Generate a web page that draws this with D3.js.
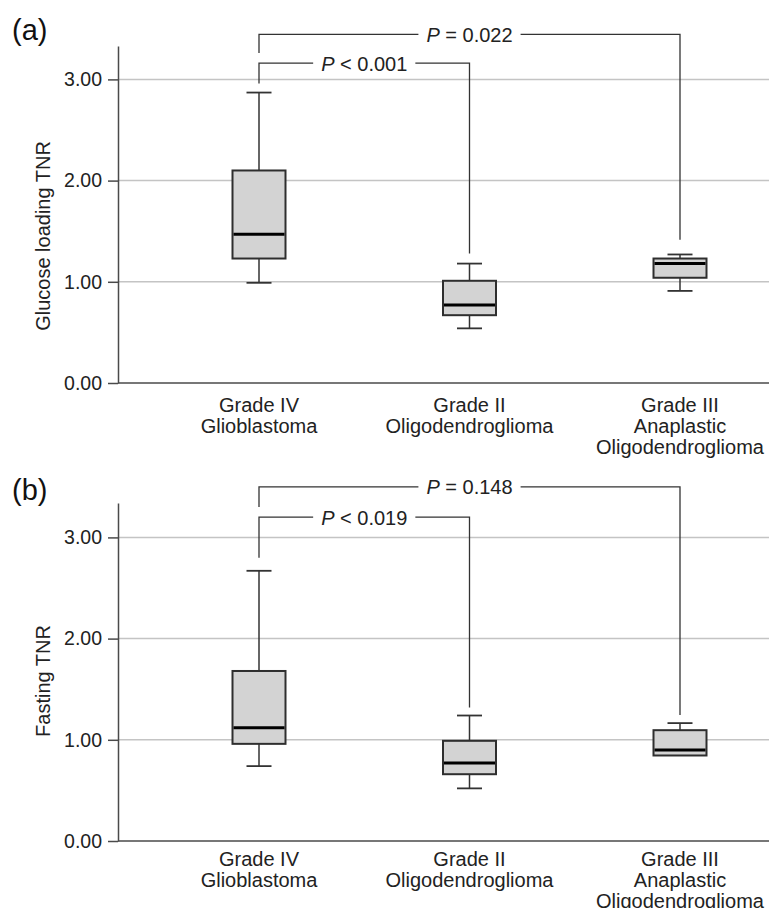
<!DOCTYPE html>
<html>
<head>
<meta charset="utf-8">
<script src="https://cdn.jsdelivr.net/npm/d3@7"></script>
<style>
  body { margin: 0; background: #fff; }
  svg { display: block; font-family: "Liberation Sans", Arial, sans-serif; }
</style>
</head>
<body>
<div id="chart"></div>
<script>
const WIDTH = 769;
const HEIGHT = 908;

// categories (one entry per line of the label)
const categories = [
    ["Grade IV", "Glioblastoma"],
    ["Grade II", "Oligodendroglioma"],
    ["Grade III", "Anaplastic", "Oligodendroglioma"]
];

const yTicks = [0, 1, 2, 3];

// (a) glucose loading TNR
const glucoseMin = [0.99, 0.54, 0.91];
const glucoseQ1 = [1.23, 0.67, 1.04];
const glucoseMedian = [1.47, 0.77, 1.18];
const glucoseQ3 = [2.10, 1.01, 1.23];
const glucoseMax = [2.87, 1.18, 1.27];
const glucoseTests = [
    { from: 0, to: 1, op: "<", p: "0.001", top: 3.16, fromEnd: 2.96, toEnd: 1.28 },
    { from: 0, to: 2, op: "=", p: "0.022", top: 3.445, fromEnd: 3.26, toEnd: 1.415 }
];

// (b) fasting TNR
const fastingMin = [0.74, 0.52, 0.845];
const fastingQ1 = [0.96, 0.66, 0.845];
const fastingMedian = [1.12, 0.77, 0.90];
const fastingQ3 = [1.68, 0.99, 1.095];
const fastingMax = [2.67, 1.24, 1.165];
const fastingTests = [
    { from: 0, to: 1, op: "<", p: "0.019", top: 3.20, fromEnd: 2.80, toEnd: 1.32 },
    { from: 0, to: 2, op: "=", p: "0.148", top: 3.50, fromEnd: 3.30, toEnd: 1.245 }
];

const PLOT_LEFT = 118;
const PLOT_RIGHT = WIDTH;
const BOX_WIDTH = 53;
const CAP_WIDTH = 25;

const svg = d3.select("#chart")
    .append("svg")
    .attr("width", WIDTH)
    .attr("height", HEIGHT);

svg.append("rect")
    .attr("width", WIDTH)
    .attr("height", HEIGHT)
    .attr("fill", "#fff");

const x = d3.scalePoint()
    .domain(d3.range(categories.length))
    .range([259, 680]);

function drawPanel(opts) {
    const y = d3.scaleLinear()
        .domain([0, opts.yMax])
        .range([opts.bottom, opts.top]);

    const g = svg.append("g");

    // panel letter
    g.append("text")
        .attr("x", 12)
        .attr("y", opts.letterY)
        .attr("font-size", 29)
        .attr("fill", "#111")
        .text(opts.letter);

    // horizontal grid lines
    g.append("g")
        .selectAll("line")
        .data(yTicks.filter(t => t > 0))
        .join("line")
        .attr("x1", PLOT_LEFT)
        .attr("x2", PLOT_RIGHT)
        .attr("y1", d => y(d))
        .attr("y2", d => y(d))
        .attr("stroke", "#c4c4c4")
        .attr("stroke-width", 1.5);

    // y axis
    const yAxis = g.append("g")
        .attr("transform", `translate(${PLOT_LEFT},0)`)
        .call(d3.axisLeft(y)
            .tickValues(yTicks)
            .tickFormat(d3.format(".2f"))
            .tickSize(10)
            .tickSizeOuter(0)
            .tickPadding(6));
    yAxis.select(".domain").attr("stroke", "#4a4a4a").attr("stroke-width", 1.5);
    yAxis.selectAll(".tick line").attr("stroke", "#4a4a4a").attr("stroke-width", 1.5);
    yAxis.selectAll(".tick text")
        .attr("font-size", 19.5)
        .attr("fill", "#222")
        .attr("font-family", "'Liberation Sans', Arial, sans-serif");

    // x axis baseline
    g.append("line")
        .attr("x1", PLOT_LEFT)
        .attr("x2", PLOT_RIGHT)
        .attr("y1", y(0))
        .attr("y2", y(0))
        .attr("stroke", "#4a4a4a")
        .attr("stroke-width", 1.5);

    // y axis title
    g.append("text")
        .attr("transform", `translate(50,${opts.titleY}) rotate(-90)`)
        .attr("text-anchor", "middle")
        .attr("font-size", 20)
        .attr("fill", "#222")
        .text(opts.title);

    // category labels
    const labels = g.append("g")
        .selectAll("text")
        .data(categories)
        .join("text")
        .attr("x", (d, i) => x(i))
        .attr("y", y(0) + opts.labelOffset)
        .attr("text-anchor", "middle")
        .attr("font-size", 20)
        .attr("fill", "#222");
    labels.selectAll("tspan")
        .data(d => d)
        .join("tspan")
        .attr("x", function () { return this.parentNode.getAttribute("x"); })
        .attr("dy", (d, i) => i === 0 ? 0 : 21)
        .text(d => d);

    // boxes
    const stats = d3.range(categories.length).map(i => ({
        i: i,
        min: opts.min[i],
        q1: opts.q1[i],
        median: opts.median[i],
        q3: opts.q3[i],
        max: opts.max[i]
    }));

    const boxes = g.append("g")
        .selectAll("g")
        .data(stats)
        .join("g");

    // whisker stems
    boxes.append("line")
        .attr("x1", d => x(d.i))
        .attr("x2", d => x(d.i))
        .attr("y1", d => y(d.max))
        .attr("y2", d => y(d.min))
        .attr("stroke", "#333")
        .attr("stroke-width", 1.5);

    // whisker caps (skip when the whisker is collapsed onto the box)
    boxes.selectAll(".cap")
        .data(d => [{ i: d.i, v: d.max, show: d.max > d.q3 }, { i: d.i, v: d.min, show: d.min < d.q1 }].filter(c => c.show))
        .join("line")
        .attr("class", "cap")
        .attr("x1", d => x(d.i) - CAP_WIDTH / 2)
        .attr("x2", d => x(d.i) + CAP_WIDTH / 2)
        .attr("y1", d => y(d.v))
        .attr("y2", d => y(d.v))
        .attr("stroke", "#333")
        .attr("stroke-width", 1.8);

    boxes.append("rect")
        .attr("x", d => x(d.i) - BOX_WIDTH / 2)
        .attr("width", BOX_WIDTH)
        .attr("y", d => y(d.q3))
        .attr("height", d => y(d.q1) - y(d.q3))
        .attr("fill", "#d3d3d3")
        .attr("stroke", "#2e2e2e")
        .attr("stroke-width", 2);

    boxes.append("line")
        .attr("x1", d => x(d.i) - BOX_WIDTH / 2 + 1)
        .attr("x2", d => x(d.i) + BOX_WIDTH / 2 - 1)
        .attr("y1", d => y(d.median))
        .attr("y2", d => y(d.median))
        .attr("stroke", "#000")
        .attr("stroke-width", 3);

    // significance brackets
    const brackets = g.append("g")
        .selectAll("g")
        .data(opts.tests)
        .join("g");

    brackets.each(function (d) {
        const b = d3.select(this);
        const x1 = x(d.from);
        const x2 = x(d.to);
        const yt = y(d.top);

        const label = b.append("text")
            .attr("x", (x1 + x2) / 2)
            .attr("y", yt + 7.5)
            .attr("text-anchor", "middle")
            .attr("font-size", 20)
            .attr("fill", "#222");
        label.append("tspan").attr("font-style", "italic").text("P");
        label.append("tspan").text(` ${d.op} ${d.p}`);

        const half = label.node().getComputedTextLength() / 2 + 8;
        const cx = (x1 + x2) / 2;

        const path = d3.path();
        path.moveTo(x1, y(d.fromEnd));
        path.lineTo(x1, yt);
        path.lineTo(cx - half, yt);
        path.moveTo(cx + half, yt);
        path.lineTo(x2, yt);
        path.lineTo(x2, y(d.toEnd));

        b.append("path")
            .attr("d", path.toString())
            .attr("fill", "none")
            .attr("stroke", "#333")
            .attr("stroke-width", 1.3);
    });
}

drawPanel({
    letter: "(a)",
    letterY: 40,
    title: "Glucose loading TNR",
    titleY: 236,
    top: 46,
    bottom: 383,
    yMax: 3.33,
    labelOffset: 28.5,
    min: glucoseMin,
    q1: glucoseQ1,
    median: glucoseMedian,
    q3: glucoseQ3,
    max: glucoseMax,
    tests: glucoseTests
});

drawPanel({
    letter: "(b)",
    letterY: 500,
    title: "Fasting TNR",
    titleY: 681,
    top: 503,
    bottom: 841,
    yMax: 3.34,
    labelOffset: 25,
    min: fastingMin,
    q1: fastingQ1,
    median: fastingMedian,
    q3: fastingQ3,
    max: fastingMax,
    tests: fastingTests
});
</script>
</body>
</html>
